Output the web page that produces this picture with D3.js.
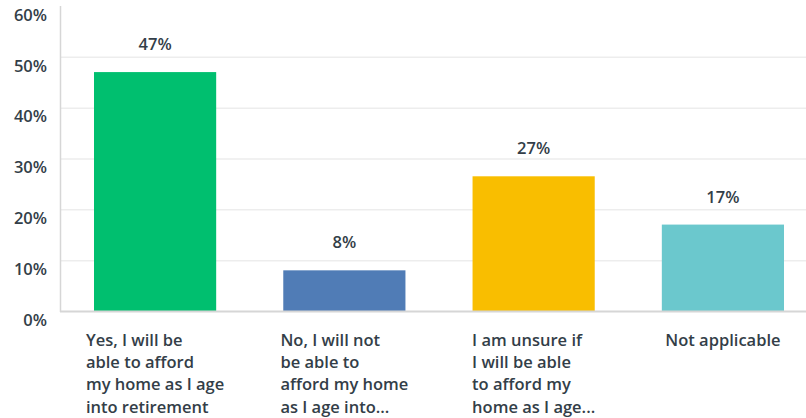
<!DOCTYPE html>
<html>
<head>
<meta charset="utf-8">
<script src="https://cdn.jsdelivr.net/npm/d3@7"></script>
<style>
  body { margin: 0; background: #fff; }
  text { font-family: "Open Sans", sans-serif; fill: #333e48; }
</style>
</head>
<body>
<script>
// survey answers, values in percent
var categories = [
  "Yes, I will be able to afford my home as I age into retirement",
  "No, I will not be able to afford my home as I age into retirement",
  "I am unsure if I will be able to afford my home as I age into retirement",
  "Not applicable"
];
var categoryLines = [
  ["Yes, I will be", "able to afford", "my home as I age", "into retirement"],
  ["No, I will not", "be able to", "afford my home", "as I age into..."],
  ["I am unsure if", "I will be able", "to afford my", "home as I age..."],
  ["Not applicable"]
];
var values = [47, 8, 26.5, 17];
var valueLabels = ["47%", "8%", "27%", "17%"];
var yTicks = [0, 10, 20, 30, 40, 50, 60];
var colors = ["#00bf6f", "#507cb6", "#f9be00", "#6bc8cd"];

var width = 806, height = 418;
var plotLeft = 60, plotRight = 806, plotTop = 6, plotBottom = 311;

var svg = d3.select("body").append("svg")
    .attr("width", width)
    .attr("height", height);

var x = d3.scaleBand().domain(categories).range([94, 784]).paddingInner(0.3545).paddingOuter(0);
var y = d3.scaleLinear().domain([0, 60]).range([plotBottom, plotTop]);

// gridlines
svg.selectAll(".grid")
    .data(yTicks.filter(function(d) { return d > 0 && d < 60; }))
    .enter().append("line")
    .attr("class", "grid")
    .attr("x1", plotLeft)
    .attr("x2", plotRight)
    .attr("y1", function(d) { return y(d) + 0.5; })
    .attr("y2", function(d) { return y(d) + 0.5; })
    .style("stroke", "#ededed")
    .style("stroke-width", 1.5);

// tick labels sit a bit below their line
svg.selectAll(".ytick")
    .data(yTicks)
    .enter().append("text")
    .attr("class", "ytick")
    .attr("x", 47)
    .attr("y", function(d) { return y(d) + 9; })
    .attr("dy", "0.35em")
    .attr("text-anchor", "end")
    .style("font-size", "16.5px")
    .style("font-weight", 600)
    .text(function(d) { return d + "%"; });

svg.selectAll(".bar")
    .data(categories)
    .enter().append("rect")
    .attr("class", "bar")
    .attr("x", function(d) { return x(d); })
    .attr("width", x.bandwidth())
    .attr("y", function(d, i) { return y(values[i]); })
    .attr("height", function(d, i) { return plotBottom - y(values[i]); })
    .style("fill", function(d, i) { return colors[i]; });

// axes lines
svg.append("line")
    .attr("x1", plotLeft + 0.5).attr("x2", plotLeft + 0.5)
    .attr("y1", plotTop).attr("y2", plotBottom + 1)
    .style("stroke", "#d6d6d6")
    .style("stroke-width", 1.5);

svg.append("line")
    .attr("x1", plotLeft).attr("x2", plotRight)
    .attr("y1", plotBottom + 0.5).attr("y2", plotBottom + 0.5)
    .style("stroke", "#d6d6d6")
    .style("stroke-width", 2);

svg.selectAll(".vlabel")
    .data(categories)
    .enter().append("text")
    .attr("class", "vlabel")
    .attr("x", function(d) { return x(d) + x.bandwidth() / 2; })
    .attr("y", function(d, i) { return y(values[i]) - 22; })
    .attr("text-anchor", "middle")
    .style("font-size", "16.5px")
    .style("font-weight", 600)
    .text(function(d, i) { return valueLabels[i]; });

// category labels: left aligned lines, block centered under the bar
var catTexts = svg.selectAll(".cat")
    .data(categories)
    .enter().append("text")
    .attr("class", "cat")
    .style("font-size", "16.5px")
    .style("font-weight", 600);

catTexts.each(function(d, i) {
    var t = d3.select(this);
    categoryLines[i].forEach(function(line, j) {
        t.append("tspan")
            .attr("x", 0)
            .attr("y", 340 + j * 22.3)
            .attr("dy", "0.35em")
            .text(line);
    });
    var w = this.getBBox().width;
    t.attr("transform", "translate(" + (x(d) + x.bandwidth() / 2 - w / 2) + ",0)");
});
</script>
</body>
</html>
